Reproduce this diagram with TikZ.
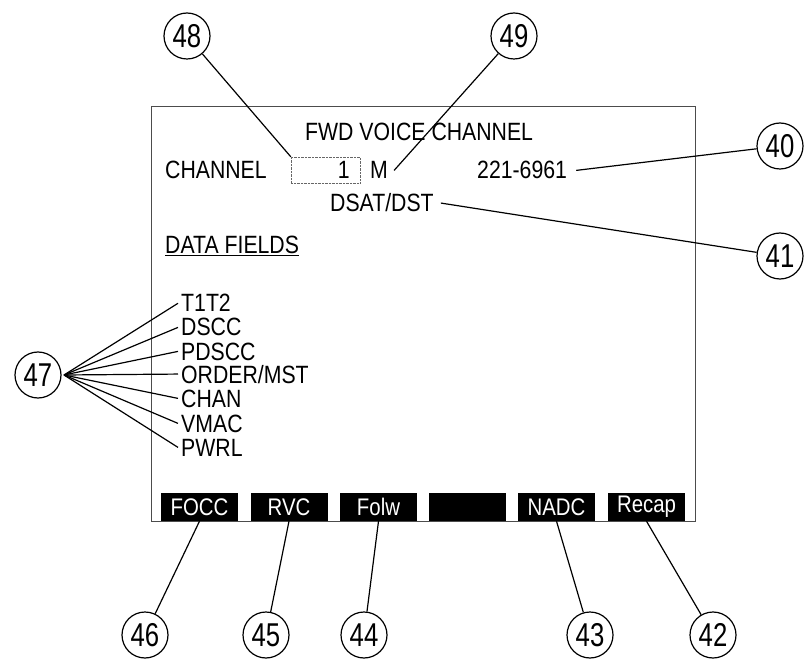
\documentclass[tikz,border=0pt]{standalone}
\usepackage{fontspec}
\setmainfont[FakeStretch=0.85]{Liberation Sans}
\newfontfamily\numfam[FakeStretch=0.78]{Liberation Sans}
\usepackage{tikz}
\usetikzlibrary{positioning}
\newcommand{\scrfont}{\fontsize{25}{25}\selectfont}
\newcommand{\numfont}{\numfam\fontsize{33}{33}\selectfont}
\newcommand{\keyfont}{\fontsize{24}{24}\selectfont}

\begin{document}
\begin{tikzpicture}[x=1pt,y=-1pt,
    callout/.style={circle,draw,line width=1.2pt,minimum size=46pt,inner sep=0pt,font=\numfont},
    field/.style={anchor=base west,inner sep=3pt,font=\scrfont},
    fkey/.style={fill=black,text=white,minimum width=77pt,minimum height=28pt,inner sep=0pt,font=\keyfont},
    lead/.style={line width=1.2pt}]
      \useasboundingbox (0,0) rectangle (806,660);
      % screen
      \draw[black!70,line width=0.9pt] (151,106) rectangle (695,521);
      \node[field] (title) at (302,141) {FWD VOICE CHANNEL};
      \node[field] (chlbl) at (162,179) {CHANNEL};
      \node[draw,densely dotted,black!60,minimum width=69pt,minimum height=26pt,inner sep=0pt] (chbox) at (325.5,170) {};
      \node[field,anchor=base east] (chnum) at (353,179) {1};
      \node[field] (mode) at (367,179) {M};
      \node[field] (phone) at (474,179) {221-6961};
      \node[field] (dsat) at (327,212) {DSAT/DST};
      \node[field] (dfld) at (162,254) {\underline{DATA FIELDS}};
      % data fields
      \node[field] (f1) at (178,312) {T1T2};
      \node[field] (f2) at (178,336) {DSCC};
      \node[field] (f3) at (178,360) {PDSCC};
      \node[field] (f4) at (178,383) {ORDER/MST};
      \node[field] (f5) at (178,407) {CHAN};
      \node[field] (f6) at (178,432) {VMAC};
      \node[field] (f7) at (178,456) {PWRL};
      % soft keys
      \node[fkey] (k1) at (199.5,507) {FOCC};
      \node[fkey] (k2) at (289,507) {RVC};
      \node[fkey] (k3) at (378.5,507) {Folw};
      \node[fkey] (k4) at (467.5,507) {};
      \node[fkey] (k5) at (556.5,507) {NADC};
      \node[fkey] (k6) at (646.5,507) {Recap};
      % callouts
      \node[callout] (c48) at (187,36) {48};
      \node[callout] (c49) at (514,36) {49};
      \node[callout] (c40) at (780,146) {40};
      \node[callout] (c41) at (780,256) {41};
      \node[callout] (c47) at (38,375) {47};
      \node[callout] (c46) at (145,635) {46};
      \node[callout] (c45) at (266,635) {45};
      \node[callout] (c44) at (364,635) {44};
      \node[callout] (c43) at (590,635) {43};
      \node[callout] (c42) at (713,635) {42};
      \coordinate (hub) at (64,375);
      % leaders
      \draw[lead] (c48) -- (chbox.north west);
      \draw[lead] (c49) -- ([xshift=3pt]mode.east);
      \draw[lead] ([xshift=6pt]phone.east) -- (c40);
      \draw[lead] ([xshift=4pt]dsat.east) -- (c41);
      \draw[lead] (hub) -- (f1.west); \draw[lead] (hub) -- (f2.west);
      \draw[lead] (hub) -- (f3.west); \draw[lead] (hub) -- (f4.west);
      \draw[lead] (hub) -- (f5.west); \draw[lead] (hub) -- (f6.west);
      \draw[lead] (hub) -- (f7.west);
      \draw[lead] (k1.south) -- (c46);
      \draw[lead] (k2.south) -- (c45);
      \draw[lead] (k3.south) -- (c44);
      \draw[lead] (k5.south) -- (c43);
      \draw[lead] (k6.south) -- (c42);
\end{tikzpicture}
\end{document}
